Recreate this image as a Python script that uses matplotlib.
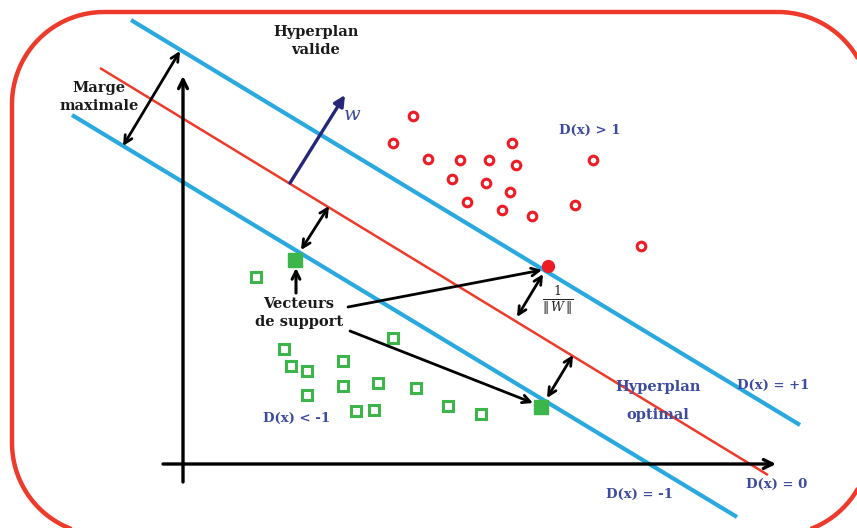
import numpy as np
import matplotlib.pyplot as plt
from matplotlib.path import Path
from matplotlib.patches import PathPatch

plt.rcParams["mathtext.fontset"] = "dejavuserif"

# Diagram drawn in pixel space of the original figure (x right, y down)
W_PX, H_PX = 857, 528

# rounded frame: left, top, right, bottom, corner radius
frame_box = [12, 12, 870, 535, 92]

# hyperplanes: (x0, y0, x1, y1)
plane_pos = [131, 20, 800, 425]     # D(x) = +1
plane_neg = [72, 115, 737, 517]     # D(x) = -1
plane_opt = [100, 68, 768, 475]     # D(x) = 0

# class +1 (open red circles)
pos_x = [413, 393, 512, 428, 460, 489, 516, 593, 452, 486, 510, 467, 502, 532, 575, 641]
pos_y = [116, 143, 143, 159, 160, 160, 165, 160, 179, 183, 192, 202, 210, 216, 205, 246]

# class -1 (open green squares)
neg_x = [256, 393, 284, 291, 307, 343, 343, 378, 416, 307, 356, 374, 448, 481]
neg_y = [277, 338, 349, 366, 371, 361, 386, 383, 388, 395, 411, 410, 406, 414]

# support vectors
sv_pos = (548, 266)
sv_neg_top = (295, 260)
sv_neg_bottom = (541, 407)

# axes of the feature space
x_axis = [163, 464, 776, 464]
y_axis = [183, 482, 183, 76]

RED = "#ee3a2a"
BLUE = "#29a9e0"
GREEN = "#3cb54a"
TXT_BLUE = "#3c4aa0"
NAVY = "#27277a"
SERIF = "DejaVu Serif"

fig = plt.figure(figsize=(W_PX / 100, H_PX / 100), dpi=100)
ax = fig.add_axes([0, 0, 1, 1])
ax.set_xlim(0, W_PX)
ax.set_ylim(H_PX, 0)
ax.axis("off")


def rounded_rect(l, t, r, b, rad):
    # corners walked clockwise on screen (y down)
    verts = []
    for cx, cy, a0 in [(r - rad, t + rad, -90), (r - rad, b - rad, 0),
                       (l + rad, b - rad, 90), (l + rad, t + rad, 180)]:
        ang = np.radians(np.linspace(a0, a0 + 90, 30))
        verts += list(zip(cx + rad * np.cos(ang), cy + rad * np.sin(ang)))
    verts.append(verts[0])
    return Path(verts)


ax.add_patch(PathPatch(rounded_rect(*frame_box), fill=False, edgecolor=RED, lw=3.2))

# coordinate axes
ax.annotate("", xy=(x_axis[2], x_axis[3]), xytext=(x_axis[0], x_axis[1]),
            arrowprops=dict(arrowstyle="->", color="black", lw=2.4, mutation_scale=16,
                            shrinkA=0, shrinkB=0))
ax.annotate("", xy=(y_axis[2], y_axis[3]), xytext=(y_axis[0], y_axis[1]),
            arrowprops=dict(arrowstyle="->", color="black", lw=2.4, mutation_scale=16,
                            shrinkA=0, shrinkB=0))

# hyperplanes
for p, c, lw in [(plane_pos, BLUE, 3.0), (plane_neg, BLUE, 3.0), (plane_opt, RED, 1.8)]:
    ax.plot([p[0], p[2]], [p[1], p[3]], color=c, lw=lw, solid_capstyle="butt")

# data points
ax.plot(pos_x, pos_y, "o", ms=6.2, mfc="white", mec="#ed1c24", mew=2.2, ls="none")
ax.plot(neg_x, neg_y, "s", ms=7.0, mfc="white", mec=GREEN, mew=2.2, ls="none")
ax.plot(*sv_pos, "o", ms=8.5, color="#ed1c24", zorder=5)
ax.plot(*sv_neg_top, "s", ms=10, color=GREEN, zorder=5)
ax.plot(*sv_neg_bottom, "s", ms=10, color=GREEN, zorder=5)


def arrow(x0, y0, x1, y1, style="<->", color="black", lw=2.0, ms=14):
    ax.annotate("", xy=(x1, y1), xytext=(x0, y0),
                arrowprops=dict(arrowstyle=style, color=color, lw=lw, mutation_scale=ms,
                                shrinkA=0, shrinkB=0))


# margins
arrow(123, 146, 180, 51)
arrow(301, 250, 329, 206)
arrow(517, 317, 543, 274)
arrow(547, 398, 573, 355)

# normal vector w
arrow(290, 183, 345, 95, style="-|>", color=NAVY, lw=2.4, ms=16)

# pointers to support vectors
arrow(296, 293, 296, 268, style="->", lw=2.2)
arrow(348, 307, 542, 270, style="->", lw=2.0)
arrow(350, 331, 533, 403, style="->", lw=2.0)

bold = dict(family=SERIF, fontweight="bold", ha="center", va="center")
ax.text(316, 41, "Hyperplan\nvalide", fontsize=10.5, color="#1a1a1a", linespacing=1.35, **bold)
ax.text(99, 97, "Marge\nmaximale", fontsize=10.5, color="#1a1a1a", linespacing=1.35, **bold)
ax.text(299, 313, "Vecteurs\nde support", fontsize=10.5, color="#1a1a1a", linespacing=1.35, **bold)
ax.text(658, 401, "Hyperplan\noptimal", fontsize=10.5, color=TXT_BLUE, linespacing=2.3, **bold)

ax.text(590, 130, "D(x) > 1", fontsize=9.5, color=TXT_BLUE, **bold)
ax.text(297, 418, "D(x) < -1", fontsize=9.5, color=TXT_BLUE, **bold)
ax.text(773, 385, "D(x) = +1", fontsize=9.5, color=TXT_BLUE, **bold)
ax.text(777, 484, "D(x) = 0", fontsize=9.5, color=TXT_BLUE, **bold)
ax.text(640, 494, "D(x) = -1", fontsize=9.5, color=TXT_BLUE, **bold)

ax.text(352, 115, "w", fontsize=14, color=TXT_BLUE, family=SERIF, style="italic",
        ha="center", va="center")
ax.text(558, 301, r"$\frac{1}{\Vert\, W \,\Vert}$", fontsize=13, color="#222222",
        ha="center", va="center")

fig.savefig("out.png", dpi=100)
